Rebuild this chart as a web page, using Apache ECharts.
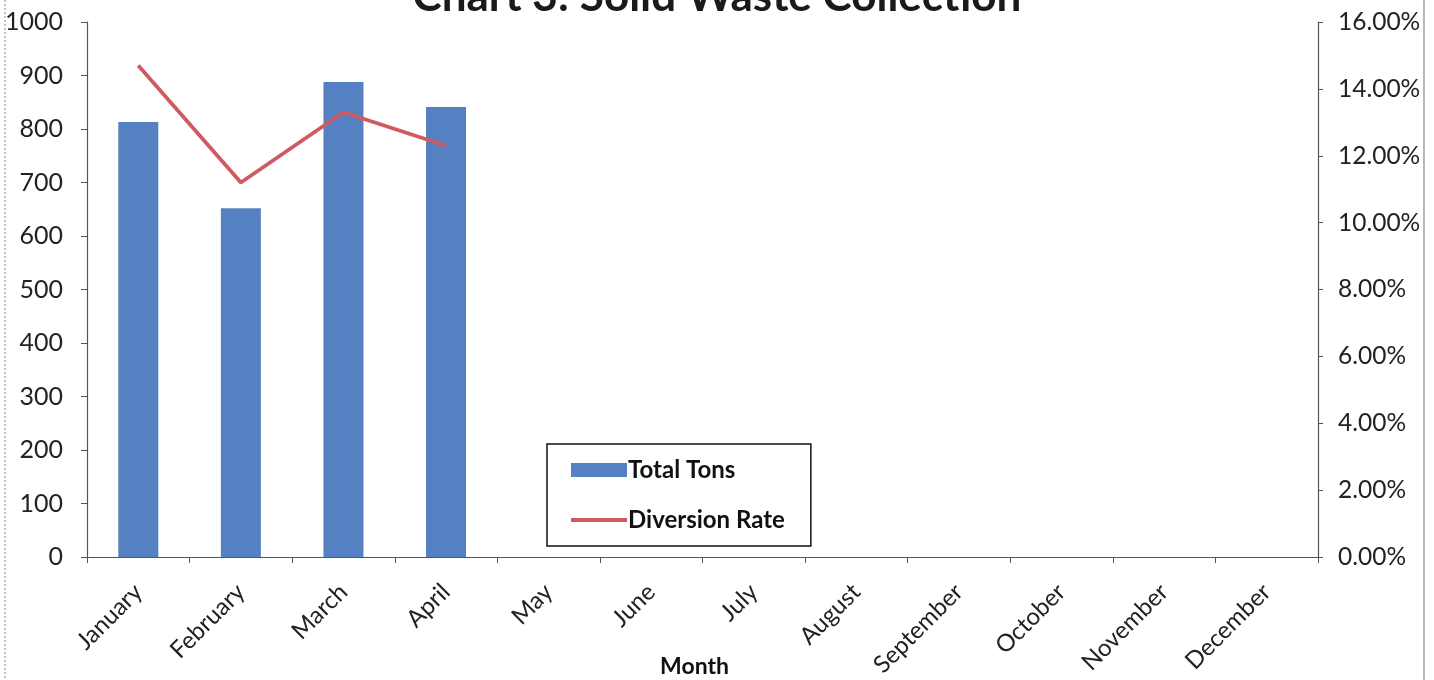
<!DOCTYPE html>
<html><head><meta charset="utf-8">
<script src="https://cdn.jsdelivr.net/npm/echarts@6/dist/echarts.min.js"></script>
<style>html,body{margin:0;padding:0;background:#fff}#c{width:1434px;height:680px}</style>
</head><body><div id="c"></div>
<script>
const months = ['January','February','March','April','May','June','July','August','September','October','November','December'];
const totalTons = [813, 652, 888, 841, null, null, null, null, null, null, null, null];
const diversionRate = [14.7, 11.2, 13.3, 12.3, null, null, null, null, null, null, null, null];
const leftTicks = {min: 0, max: 1000, interval: 100};
const rightTicks = {min: 0, max: 16, interval: 2};

const FONT = 'Lato, "Open Sans", sans-serif';
const chart = echarts.init(document.getElementById('c'));
chart.setOption({
  animation: false,
  backgroundColor: '#fff',
  title: {
    text: 'Chart 3: Solid Waste Collection',
    left: 'center', top: -30,
    textStyle: {fontFamily: FONT, fontSize: 44, fontWeight: 'bold', color: '#1a1a1a'}
  },
  grid: {left: 87, right: 116, top: 22, bottom: 123, outerBoundsMode: 'none', containLabel: false},
  legend: {
    orient: 'vertical', left: 547, top: 444,
    padding: [14, 26, 14, 22],
    itemGap: 26,
    itemWidth: 56, itemHeight: 14,
    borderColor: '#111', borderWidth: 1.5,
    textStyle: {fontFamily: FONT, fontSize: 24, fontWeight: 'bold', color: '#111', padding: [0, 0, 0, -4]},
    data: [
      {name: 'Total Tons', icon: 'rect'},
      {name: 'Diversion Rate', itemStyle: {opacity: 0}, lineStyle: {width: 4, color: '#CF5A63'}}
    ]
  },
  xAxis: {
    type: 'category', data: months,
    name: 'Month', nameLocation: 'middle', nameGap: 98, nameMoveOverlap: false,
    nameTextStyle: {fontFamily: FONT, fontSize: 23, fontWeight: 'bold', color: '#111', padding: [0, 16, 0, 0]},
    axisLine: {lineStyle: {color: '#555', width: 1.2}},
    axisTick: {show: true, length: 6, lineStyle: {color: '#555'}},
    axisLabel: {rotate: 45, fontFamily: FONT, fontSize: 24, color: '#222', margin: 31, interval: 0}
  },
  yAxis: [
    {
      type: 'value', min: leftTicks.min, max: leftTicks.max, interval: leftTicks.interval,
      axisLine: {show: true, lineStyle: {color: '#555', width: 1.2}},
      axisTick: {show: true, length: 6, lineStyle: {color: '#555'}},
      splitLine: {show: false},
      axisLabel: {fontFamily: FONT, fontSize: 25, color: '#222', margin: 24, formatter: v => String(v)}
    },
    {
      type: 'value', min: rightTicks.min, max: rightTicks.max, interval: rightTicks.interval,
      position: 'right',
      axisLine: {show: true, lineStyle: {color: '#555', width: 1.2}},
      axisTick: {show: true, length: 5, lineStyle: {color: '#555'}},
      splitLine: {show: false},
      axisLabel: {fontFamily: FONT, fontSize: 24.5, color: '#222', margin: 20,
        formatter: v => v.toFixed(2) + '%'}
    }
  ],
  series: [
    {
      name: 'Total Tons', type: 'bar', data: totalTons, yAxisIndex: 0,
      barWidth: 40,
      itemStyle: {color: '#5580C2'}
    },
    {
      name: 'Diversion Rate', type: 'line', data: diversionRate, yAxisIndex: 1,
      symbol: 'none', connectNulls: false,
      lineStyle: {color: '#CF5A63', width: 3.8},
      itemStyle: {color: '#CF5A63'}
    }
  ],
  graphic: [
    {type: 'line', shape: {x1: 5, y1: 0, x2: 5, y2: 680}, style: {stroke: '#888', lineWidth: 1, lineDash: [2, 2]}},
    {type: 'line', shape: {x1: 1424, y1: 0, x2: 1424, y2: 680}, style: {stroke: '#888', lineWidth: 1.2}}
  ]
});
</script></body></html>
